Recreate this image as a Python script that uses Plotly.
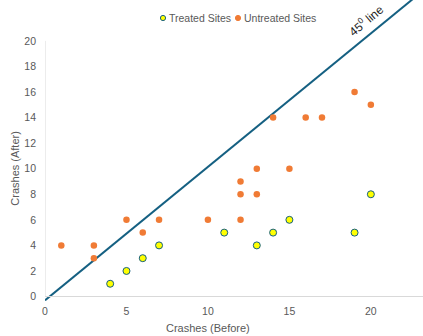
import plotly.graph_objects as go

treated_x = [4, 5, 6, 7, 11, 13, 14, 15, 19, 20]
treated_y = [1, 2, 3, 4, 5, 4, 5, 6, 5, 8]
untreated_x = [1, 3, 3, 5, 6, 7, 10, 12, 12, 12, 13, 13, 15, 14, 16, 17, 19, 20]
untreated_y = [4, 4, 3, 6, 5, 6, 6, 6, 8, 9, 8, 10, 10, 14, 14, 14, 16, 15]
line_x = [0, 22.6]
line_y = [-0.3, 23.3]
tick_vals_x = [0, 5, 10, 15, 20]
tick_vals_y = [0, 2, 4, 6, 8, 10, 12, 14, 16, 18, 20]
series_names = ["Treated Sites", "Untreated Sites"]

GRAY = "#595959"
FONT = "Liberation Sans"
BLUE = "#156082"
ORANGE = "#F07B35"
YELLOW = "#FFFF00"

fig = go.Figure()
fig.add_trace(go.Scatter(x=line_x, y=line_y, mode="lines",
                         line=dict(color=BLUE, width=2), showlegend=False,
                         hoverinfo="skip"))
fig.add_trace(go.Scatter(x=treated_x, y=treated_y, mode="markers", name=series_names[0],
                         showlegend=False,
                         marker=dict(size=7, color=YELLOW,
                                     line=dict(color=BLUE, width=1))))
fig.add_trace(go.Scatter(x=untreated_x, y=untreated_y, mode="markers", name=series_names[1],
                         showlegend=False,
                         marker=dict(size=6.5, color=ORANGE,
                                     line=dict(color=ORANGE, width=0))))

fig.add_shape(type="line", xref="x", yref="y", x0=0, x1=0, y0=0, y1=20,
              line=dict(color="#D9D9D9", width=1))
fig.add_shape(type="line", xref="x", yref="y", x0=0, x1=23.3, y0=0, y1=0,
              line=dict(color="#D9D9D9", width=1))

# legend (manual, to match compact spacing)
W, H = 423, 336
pw = W - 45
ph = H - 35
def px_to_paper(px, py):
    return (px - 45) / pw, (ph - py) / ph

for (mx, name, fill, edge) in [(163, series_names[0], YELLOW, BLUE),
                               (238, series_names[1], ORANGE, ORANGE)]:
    cx, cy = px_to_paper(mx, 18)
    r = 2.6
    fig.add_shape(type="circle", xref="paper", yref="paper",
                  x0=cx - r / pw, x1=cx + r / pw, y0=cy - r / ph, y1=cy + r / ph,
                  fillcolor=fill, line=dict(color=edge, width=1))
    tx, ty = px_to_paper(mx + 4, 18)
    fig.add_annotation(x=tx, y=ty, xref="paper", yref="paper", xanchor="left",
                       yanchor="middle", text=name, showarrow=False,
                       font=dict(family=FONT, size=10.5, color=GRAY))

fig.add_annotation(x=0, xref="paper", y=10, yref="y", xshift=-30,
                   xanchor="center", yanchor="middle",
                   text="Crashes (After)", textangle=-90, showarrow=False,
                   font=dict(family=FONT, size=11, color=GRAY))
fig.add_annotation(x=10, xref="x", y=0, yref="paper", yshift=-27,
                   xanchor="center", yanchor="middle",
                   text="Crashes (Before)", showarrow=False,
                   font=dict(family=FONT, size=11, color=GRAY))
fig.add_annotation(x=19.7, xref="x", y=21.6, yref="y",
                   text="45<sup>0</sup> line", textangle=-40, showarrow=False,
                   font=dict(family=FONT, size=12, color="#262626"))

fig.update_layout(
    width=W, height=H,
    margin=dict(l=45, r=0, t=0, b=35),
    paper_bgcolor="white", plot_bgcolor="white",
    font=dict(family=FONT, size=10, color=GRAY),
    xaxis=dict(range=[0, 23.2], tickvals=tick_vals_x, showgrid=False, zeroline=False,
               showline=False, ticks="", ticklabelstandoff=2,
               tickfont=dict(size=10.5, color=GRAY)),
    yaxis=dict(range=[-0.35, 23.2], tickvals=tick_vals_y, showgrid=False, zeroline=False,
               showline=False, ticks="", ticklabelstandoff=8,
               tickfont=dict(size=10.5, color=GRAY)),
    showlegend=False,
)
fig.write_html("out.html")
